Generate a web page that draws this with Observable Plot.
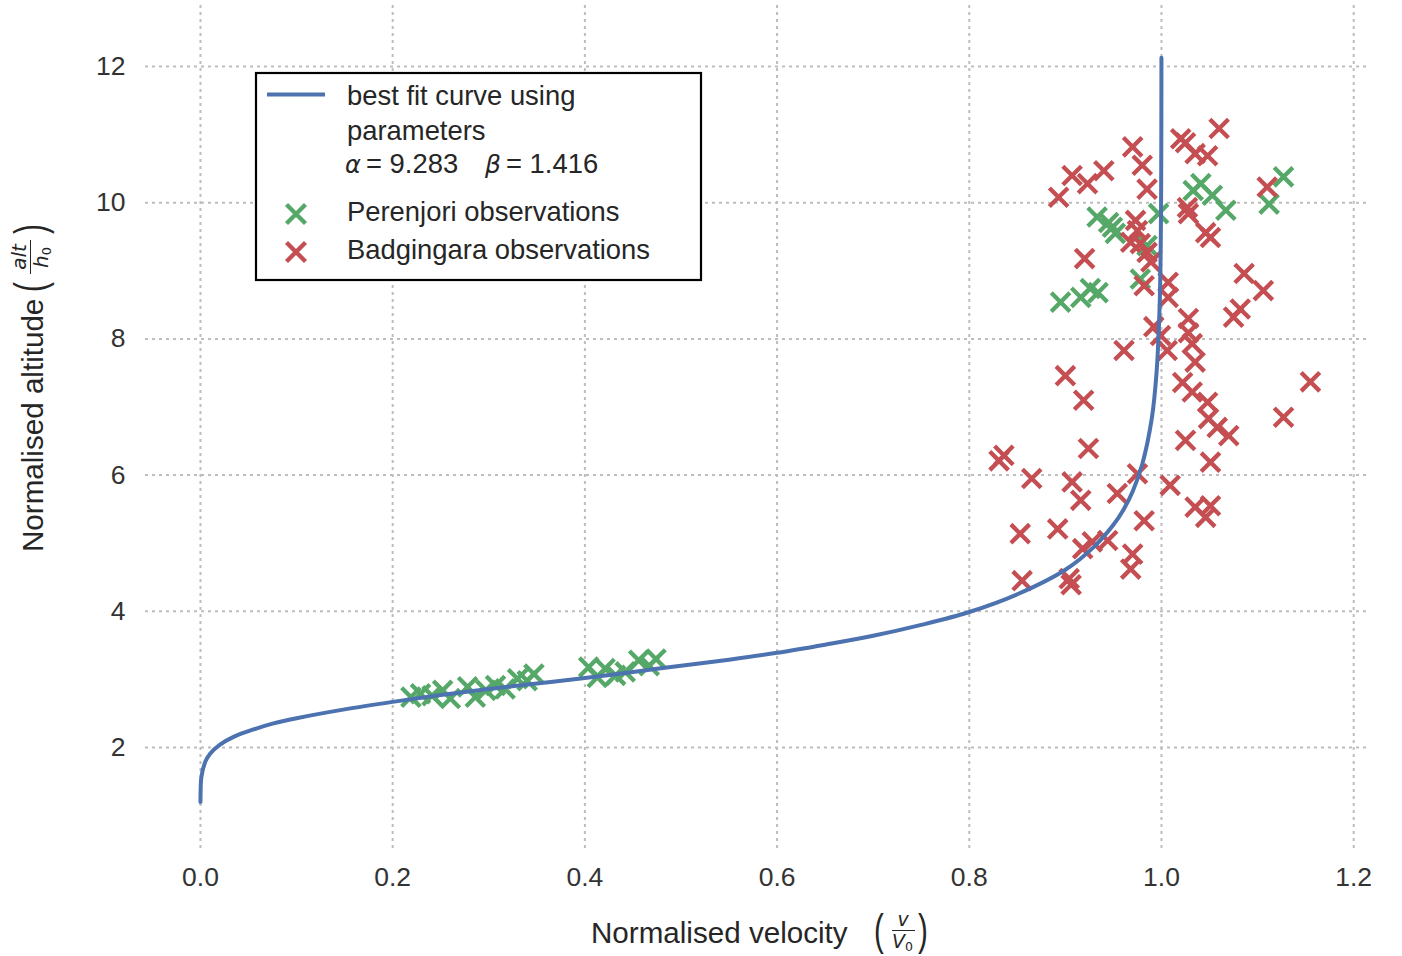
<!DOCTYPE html>
<html>
<head>
<meta charset="utf-8">
<script src="https://cdn.jsdelivr.net/npm/d3@7"></script>
<script src="https://cdn.jsdelivr.net/npm/@observablehq/plot@0.6"></script>
<style>
  html, body { margin: 0; padding: 0; background: #fff; }
  #wrap { position: relative; width: 1402px; height: 956px; overflow: hidden; }
  #wrap > svg { position: absolute; left: 0; top: 0; }
  #ov text { font-family: "Liberation Sans", Arial, sans-serif; fill: #262626; }
  #ov .math { font-family: "DejaVu Sans", sans-serif; font-style: italic; }
</style>
</head>
<body>
<div id="wrap"></div>
<script>
// ---------------- data ----------------
// best fit curve (alpha = 9.283, beta = 1.416)
const curveV = [0, 0.0001, 0.001, 0.005, 0.01, 0.02, 0.035, 0.05, 0.075, 0.1, 0.15, 0.2, 0.25, 0.3, 0.35, 0.4, 0.45, 0.5, 0.55, 0.6, 0.65, 0.7, 0.75, 0.8, 0.85, 0.9, 0.93, 0.95, 0.96, 0.97, 0.98, 0.99, 0.995, 0.998, 0.999, 0.9995, 0.9998, 0.9999, 0.99995];
const curveH = [1.20, 1.32, 1.57, 1.79, 1.91, 2.04, 2.16, 2.24, 2.35, 2.43, 2.56, 2.67, 2.77, 2.86, 2.94, 3.02, 3.11, 3.20, 3.29, 3.39, 3.51, 3.64, 3.80, 3.99, 4.25, 4.61, 4.95, 5.27, 5.48, 5.76, 6.16, 6.84, 7.53, 8.45, 9.14, 9.83, 10.75, 11.44, 12.13];

// Perenjori observations (green)
const perenjoriV = [0.219, 0.229, 0.241, 0.252, 0.260, 0.278, 0.286, 0.297, 0.307, 0.317, 0.330, 0.340, 0.347,
                    0.404, 0.413, 0.421, 0.432, 0.442, 0.456, 0.467, 0.474,
                    0.933, 0.945, 0.949, 0.952, 0.997, 0.985, 0.978, 0.895, 0.916, 0.926, 0.934,
                    1.033, 1.041, 1.053, 1.067, 1.127, 1.112];
const perenjoriH = [2.74, 2.79, 2.76, 2.84, 2.72, 2.89, 2.74, 2.84, 2.91, 2.86, 3.01, 2.98, 3.08,
                    3.18, 3.03, 3.16, 3.06, 3.11, 3.28, 3.20, 3.30,
                    9.79, 9.71, 9.64, 9.55, 9.84, 9.37, 8.88, 8.54, 8.61, 8.74, 8.68,
                    10.18, 10.28, 10.11, 9.89, 10.38, 9.98];

// Badgingara observations (red)
const badgingaraV = [0.970, 0.980, 0.985, 0.907, 0.923, 0.940, 0.893, 1.020, 1.025, 1.060, 1.035, 1.048, 1.110,
                     1.027, 1.028, 1.051, 1.046, 0.973, 0.975, 0.968, 0.978, 0.985, 0.989, 0.920, 0.982,
                     1.007, 1.007, 1.086, 1.106, 1.082, 1.075, 1.028, 1.028, 1.032, 0.992, 0.999, 1.006,
                     0.961, 1.035, 0.900, 0.919, 1.022, 1.032, 1.048, 1.049, 1.058, 1.070, 1.025, 1.051,
                     1.155, 1.127, 0.924, 0.836, 0.831, 0.865, 0.907, 0.975, 1.009, 0.916, 0.954, 0.982,
                     1.035, 1.051, 1.046, 0.853, 0.892, 0.918, 0.928, 0.944, 0.970, 0.968, 0.855, 0.904, 0.906];
const badgingaraH = [10.82, 10.55, 10.20, 10.40, 10.28, 10.47, 10.08, 10.94, 10.88, 11.09, 10.72, 10.69, 10.23,
                     9.93, 9.84, 9.49, 9.56, 9.74, 9.59, 9.42, 9.40, 9.27, 9.13, 9.18, 8.78,
                     8.83, 8.61, 8.96, 8.71, 8.44, 8.32, 8.30, 8.09, 7.93, 8.18, 8.05, 7.83,
                     7.83, 7.66, 7.46, 7.10, 7.36, 7.22, 7.07, 6.83, 6.70, 6.58, 6.51, 6.19,
                     7.37, 6.85, 6.39, 6.29, 6.21, 5.95, 5.90, 6.02, 5.85, 5.63, 5.73, 5.33,
                     5.53, 5.55, 5.38, 5.14, 5.21, 4.92, 5.02, 5.04, 4.84, 4.62, 4.45, 4.48, 4.39];

const xTicks = [0, 0.2, 0.4, 0.6, 0.8, 1.0, 1.2];
const yTicks = [2, 4, 6, 8, 10, 12];

const legendCurve = "best fit curve using";
const legendCurve2 = "parameters";
const alphaText = "9.283";
const betaText = "1.416";
const legendGreen = "Perenjori observations";
const legendRed = "Badgingara observations";
const xLabel = "Normalised velocity";
const yLabel = "Normalised altitude";

// ---------------- build tables ----------------
const curve = curveV.map((v, i) => ({v, h: curveH[i]}));
const perenjori = perenjoriV.map((v, i) => ({v, h: perenjoriH[i]}));
const badgingara = badgingaraV.map((v, i) => ({v, h: badgingaraH[i]}));

const BLUE = "#4C72B0", GREEN = "#55A868", RED = "#C44E52";
const GRID = "#bdbdbd";

// "x" marker symbol
const cross = {
  draw(ctx, size) {
    const r = Math.sqrt(size / Math.PI);
    ctx.moveTo(-r, -r); ctx.lineTo(r, r);
    ctx.moveTo(-r, r); ctx.lineTo(r, -r);
  }
};

const chart = Plot.plot({
  width: 1402,
  height: 956,
  marginLeft: 145,
  marginRight: 32,
  marginTop: 5,
  marginBottom: 108,
  style: {fontFamily: "'Liberation Sans', Arial, sans-serif", fontSize: "26.5px", color: "#333", background: "transparent"},
  x: {domain: [-0.0572, 1.2175], ticks: xTicks, tickFormat: d => d.toFixed(1), tickSize: 0, tickPadding: 19, label: null},
  y: {domain: [0.517, 12.896], ticks: yTicks, tickFormat: d => String(d), tickSize: 0, tickPadding: 20, label: null},
  marks: [
    Plot.ruleX(xTicks, {stroke: GRID, strokeWidth: 2, strokeDasharray: "3,4"}),
    Plot.ruleY(yTicks, {stroke: GRID, strokeWidth: 2, strokeDasharray: "3,4"}),
    Plot.dot(perenjori, {x: "v", y: "h", symbol: cross, r: 9.3, fill: "none", stroke: GREEN, strokeWidth: 4.3}),
    Plot.dot(badgingara, {x: "v", y: "h", symbol: cross, r: 9.3, fill: "none", stroke: RED, strokeWidth: 4.3}),
    Plot.line(curve, {x: "v", y: "h", stroke: BLUE, strokeWidth: 4, curve: "catmull-rom"})
  ]
});

const wrap = document.getElementById("wrap");
wrap.appendChild(chart);

// ---------------- legend & axis labels overlay ----------------
const ns = "http://www.w3.org/2000/svg";
const ov = document.createElementNS(ns, "svg");
ov.setAttribute("id", "ov");
ov.setAttribute("width", 1402);
ov.setAttribute("height", 956);
ov.innerHTML = `
  <rect x="256" y="73" width="445" height="207" fill="#fff" stroke="#000" stroke-width="2.2"/>
  <line x1="267" x2="325" y1="94.5" y2="94.5" stroke="${BLUE}" stroke-width="4"/>
  <path d="M286.5,204.5L305.5,223.5M286.5,223.5L305.5,204.5" stroke="${GREEN}" stroke-width="4.3" fill="none"/>
  <path d="M286.5,242.5L305.5,261.5M286.5,261.5L305.5,242.5" stroke="${RED}" stroke-width="4.3" fill="none"/>
  <g font-size="27.4">
    <text x="347" y="105">${legendCurve}</text>
    <text x="347" y="139.5">${legendCurve2}</text>
    <text y="173.3"><tspan class="math" x="345" font-size="24">α</tspan><tspan x="366">= ${alphaText}</tspan><tspan class="math" x="485" font-size="25">β</tspan><tspan x="506">= ${betaText}</tspan></text>
    <text x="347" y="221">${legendGreen}</text>
    <text x="347" y="258.5">${legendRed}</text>
  </g>
  <g transform="translate(591,943)">
    <text x="0" y="0" font-size="29.6">${xLabel}</text>
    <text transform="translate(283,2) scale(1,1.5)" font-size="29.5">(</text>
    <text class="math" x="312" y="-17" font-size="19" text-anchor="middle">v</text>
    <line x1="301" x2="324" y1="-12.5" y2="-12.5" stroke="#262626" stroke-width="1"/>
    <text class="math" x="301" y="5" font-size="19">V<tspan font-size="12.5" dy="3" font-style="normal">0</tspan></text>
    <text transform="translate(327,2) scale(1,1.5)" font-size="29.5">)</text>
  </g>
  <g transform="translate(43,552) rotate(-90)">
    <text x="0" y="0" font-size="29.6">${yLabel}</text>
    <text transform="translate(260,2) scale(1,1.5)" font-size="29.5">(</text>
    <text class="math" x="295" y="-17" font-size="20" text-anchor="middle">alt</text>
    <line x1="278" x2="312" y1="-12.5" y2="-12.5" stroke="#262626" stroke-width="1"/>
    <text class="math" x="284" y="5" font-size="20">h<tspan font-size="13" dy="3" font-style="normal">0</tspan></text>
    <text transform="translate(318,2) scale(1,1.5)" font-size="29.5">)</text>
  </g>
`;
wrap.appendChild(ov);
</script>
</body>
</html>
